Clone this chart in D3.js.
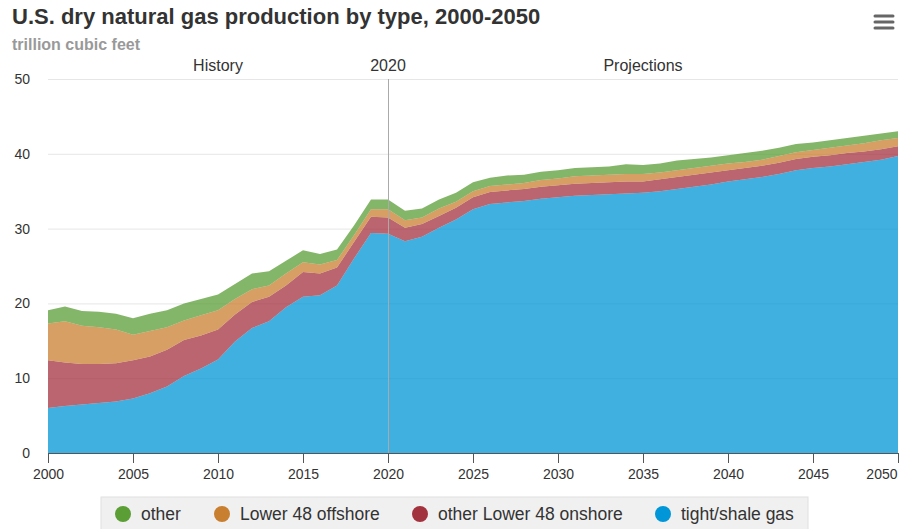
<!DOCTYPE html>
<html><head><meta charset="utf-8">
<script src="https://cdn.jsdelivr.net/npm/d3@7"></script>
<style>
body{margin:0;background:#fff;font-family:"Liberation Sans",Arial,sans-serif;}
svg{display:block}
</style></head><body>
<svg id="c" width="899" height="529"></svg>
<script>
const years = d3.range(2000, 2051);
const shale = [6.0,6.3,6.5,6.7,6.9,7.3,8.0,8.9,10.3,11.3,12.5,14.9,16.7,17.6,19.5,20.9,21.1,22.4,26.0,29.4,29.3,28.3,28.9,30.1,31.2,32.6,33.3,33.5,33.7,34.0,34.2,34.4,34.5,34.6,34.7,34.8,35.0,35.3,35.6,35.9,36.3,36.6,36.9,37.3,37.8,38.1,38.3,38.6,38.9,39.2,39.7];
const onshore = [6.4,5.8,5.4,5.2,5.1,5.1,4.9,4.9,4.8,4.4,4.0,3.6,3.5,3.3,2.9,3.3,2.9,2.4,2.2,2.2,2.2,1.8,1.7,1.6,1.6,1.6,1.6,1.6,1.6,1.6,1.6,1.6,1.6,1.6,1.6,1.5,1.6,1.6,1.6,1.6,1.5,1.5,1.5,1.5,1.5,1.5,1.5,1.5,1.4,1.4,1.3];
const offshore = [4.9,5.5,5.1,4.9,4.5,3.4,3.4,3.0,2.6,2.7,2.6,2.1,1.7,1.5,1.6,1.3,1.2,1.0,0.9,1.0,1.1,1.0,0.9,1.0,0.8,0.8,0.8,0.8,0.8,0.9,0.9,1.0,1.0,1.0,1.0,1.0,0.9,0.9,0.9,0.9,0.9,0.8,0.8,0.9,0.9,0.9,1.0,1.0,1.1,1.2,1.1];
const other = [1.8,2.0,2.0,2.1,2.1,2.2,2.3,2.3,2.3,2.2,2.1,2.0,2.1,1.9,1.7,1.6,1.4,1.4,1.3,1.3,1.3,1.3,1.2,1.2,1.2,1.2,1.1,1.2,1.1,1.1,1.1,1.1,1.1,1.1,1.3,1.2,1.2,1.3,1.2,1.1,1.1,1.2,1.2,1.1,1.1,1.0,1.0,1.0,1.0,0.9,0.9];
const seriesNames = ["tight/shale gas","other Lower 48 onshore","Lower 48 offshore","other"];
const seriesColors = ["#0096d7","#a3323f","#c97f30","#5a9e35"];
const legendOrder = [3,2,1,0];
const xTicks = d3.range(2000, 2051, 5);
const yTicks = [0,10,20,30,40,50];

const svg = d3.select("#c");
const L = 48, R = 898, T = 79, B = 453;
const x = d3.scaleLinear().domain([2000,2050]).range([L,R]);
const y = d3.scaleLinear().domain([0,50]).range([B,T]);

// title
svg.append("text").attr("x",12).attr("y",24).attr("font-size",22).attr("font-weight","bold").attr("fill","#333")
  .text("U.S. dry natural gas production by type, 2000-2050");
svg.append("text").attr("x",12).attr("y",50).attr("font-size",16).attr("font-weight","bold").attr("fill","#999")
  .text("trillion cubic feet");

// menu icon
[16,22,28].forEach(v=>svg.append("line").attr("x1",875).attr("x2",893).attr("y1",v).attr("y2",v)
  .attr("stroke","#666").attr("stroke-width",3).attr("stroke-linecap","round"));

// grid
svg.append("g").selectAll("line").data(yTicks.filter(d=>d>0)).join("line")
  .attr("x1",L).attr("x2",R).attr("y1",d=>y(d)+0.5).attr("y2",d=>y(d)+0.5)
  .attr("stroke","#e6e6e6");
svg.append("g").selectAll("text").data(yTicks).join("text")
  .attr("x",30).attr("y",d=>y(d)+5).attr("text-anchor","end").attr("font-size",14).attr("fill","#333")
  .text(d=>d);

// stacked areas
const table = years.map((yr,i)=>({year:yr, s0:shale[i], s1:onshore[i], s2:offshore[i], s3:other[i]}));
const stack = d3.stack().keys(["s0","s1","s2","s3"])(table);
const area = d3.area().x(d=>x(d.data.year)).y0(d=>y(d[0])).y1(d=>y(d[1]));
svg.append("g").selectAll("path").data(stack).join("path")
  .attr("d",area).attr("fill",(d,i)=>seriesColors[i]).attr("fill-opacity",0.75);

// 2020 line
svg.append("line").attr("x1",x(2020)+0.5).attr("x2",x(2020)+0.5).attr("y1",T).attr("y2",B)
  .attr("stroke","#aaa").attr("stroke-width",1);

// band labels
const lbl = [["History",(2000+2020)/2],["2020",2020],["Projections",(2020+2050)/2]];
svg.append("g").selectAll("text").data(lbl).join("text")
  .attr("x",d=>x(d[1])).attr("y",71).attr("text-anchor","middle").attr("font-size",16).attr("fill","#333")
  .text(d=>d[0]);

// x axis
const xa = svg.append("g").attr("transform",`translate(0,${B})`)
  .call(d3.axisBottom(x).tickValues(xTicks).tickFormat(d3.format("d")).tickSize(10).tickSizeOuter(0));
xa.select(".domain").attr("stroke","#555");
xa.selectAll(".tick line").attr("stroke","#555");
xa.selectAll("text").attr("font-size",14).attr("fill","#333").attr("font-family","Liberation Sans, Arial").attr("dy","0.9em");
xa.selectAll(".tick").filter(d=>d===2050).select("text").attr("text-anchor","end").attr("dx","-1px");

// legend
const lg = svg.append("g");
lg.append("rect").attr("x",101).attr("y",497).attr("width",707).attr("height",40).attr("fill","#f0f0f0").attr("stroke","#e0e0e0");
const lx = [123,222,420,663];
legendOrder.forEach((si,k)=>{
  lg.append("circle").attr("cx",lx[k]).attr("cy",514).attr("r",8).attr("fill",seriesColors[si]);
  lg.append("text").attr("x",lx[k]+18).attr("y",520).attr("font-size",17.5).attr("fill","#333").text(seriesNames[si]);
});
</script>
</body></html>
